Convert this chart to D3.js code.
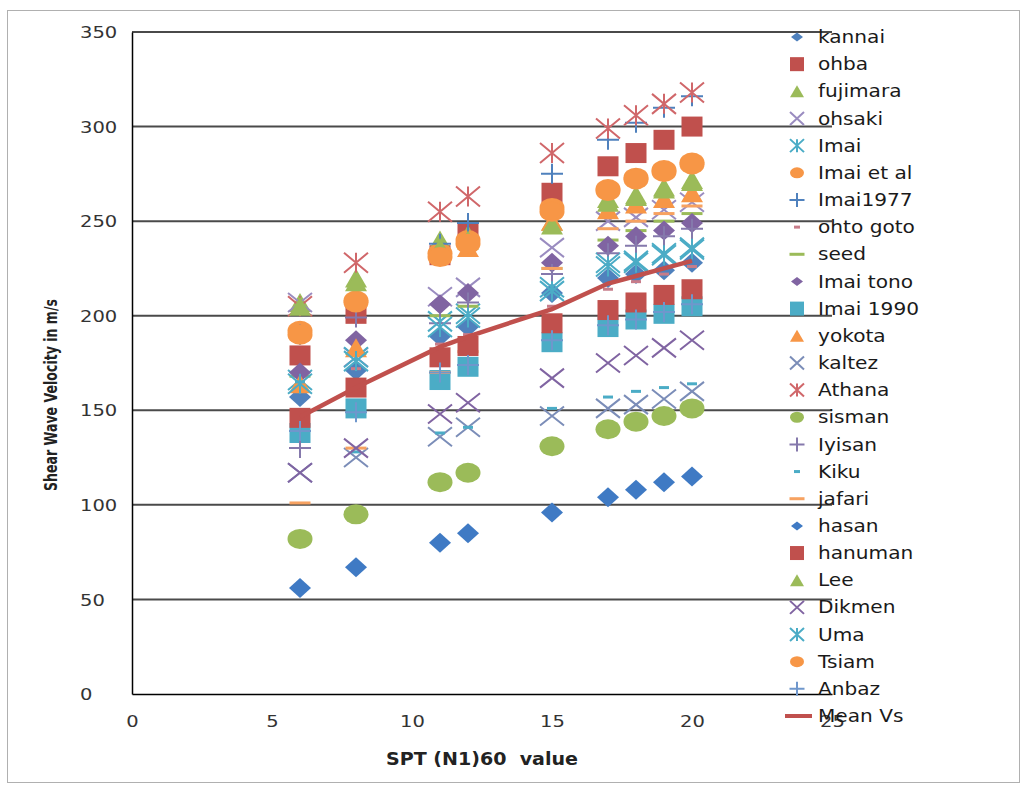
<!DOCTYPE html>
<html lang="en">
<head>
    <meta charset="UTF-8">
    <title>Shear Wave Velocity vs SPT</title>
    <script src="https://d3js.org/d3.v7.min.js"></script>
    <style>
        body { margin: 0; background: #fff; }
        text { font-family: "DejaVu Sans", sans-serif; }
    </style>
</head>
<body>
    <div id="chart"></div>

    <script>
        // SPT (N1)60 values where every correlation was evaluated
        const spt = [6, 8, 11, 12, 15, 17, 18, 19, 20];

        // Shear wave velocity (m/s), one array per correlation
        const kannai    = [157, 171, 189, 194, 212, 220, 222, 224, 228];
        const ohba      = [179, 201, 232, 244, 265, 279, 286, 293, 300];
        const fujimara  = [207, 220, 240, 243, 250, 262, 264, 268, 272];
        const ohsaki    = [207, 178, 210, 215, 236, 250, 252, 256, 260];
        const imai      = [166, 178, 197, 201, 215, 228, 229, 233, 236];
        const imaiEtAl  = [192, 208, 233, 240, 257, 267, 273, 277, 281];
        const imai1977  = [190, 205, 238, 249, 275, 293, 302, 310, 316];
        const ohtoGoto  = [160, 172, 185, 190, 205, 214, 218, 222, 226];
        const seed      = [168, 180, 200, 205, 225, 240, 245, 250, 254];
        const imaiTono  = [170, 187, 206, 212, 228, 237, 242, 245, 249];
        const imai1990  = [138, 151, 166, 173, 186, 194, 198, 201, 205];
        const yokota    = [164, 183, 233, 236, 250, 256, 259, 262, 265];
        const kaltez    = [117, 125, 136, 141, 147, 151, 153, 156, 160];
        const athana    = [205, 228, 255, 263, 286, 299, 306, 312, 318];
        const sisman    = [82, 95, 112, 117, 131, 140, 144, 147, 151];
        const iyisan    = [130, 199, 196, 207, 222, 233, 237, 242, 246];
        const kiku      = [165, 128, 138, 141, 151, 157, 160, 162, 164];
        const jafari    = [101, 130, 170, 181, 225, 246, 250, 254, 258];
        const hasan     = [56, 67, 80, 85, 96, 104, 108, 112, 115];
        const hanuman   = [146, 162, 178, 184, 196, 203, 207, 211, 214];
        const lee       = [205, 218, 236, 240, 248, 260, 263, 267, 271];
        const dikmen    = [117, 130, 148, 154, 167, 175, 179, 183, 187];
        const uma       = [164, 176, 194, 199, 213, 226, 228, 232, 235];
        const tsiam     = [190, 207, 231, 238, 255, 266, 272, 276, 280];
        const anbaz     = [139, 149, 170, 174, 187, 195, 198, 202, 206];
        const meanVs    = [146.5, 162, 183.5, 189, 203.5, 217, 221, 225, 229];

        const xTicks = [0, 5, 10, 15, 20, 25];
        const yTicks = [0, 50, 100, 150, 200, 250, 300, 350];

        // name, values, marker shape, colour (Excel 2007 default cycle)
        const series = [
            ["kannai", kannai, "diamond", "#4F81BD"],
            ["ohba", ohba, "square", "#C0504D"],
            ["fujimara", fujimara, "triangle", "#9BBB59"],
            ["ohsaki", ohsaki, "x", "#9A8CC0"],
            ["Imai", imai, "star", "#4BACC6"],
            ["Imai et al", imaiEtAl, "circle", "#F79646"],
            ["Imai1977", imai1977, "plus", "#4F81BD"],
            ["ohto goto", ohtoGoto, "dash", "#C77C89"],
            ["seed", seed, "longdash", "#9BBB59"],
            ["Imai tono", imaiTono, "diamond", "#8064A2"],
            ["Imai 1990", imai1990, "square", "#4BACC6"],
            ["yokota", yokota, "triangle", "#F79646"],
            ["kaltez", kaltez, "x", "#7B8DB8"],
            ["Athana", athana, "star", "#D0676A"],
            ["sisman", sisman, "circle", "#9BBB59"],
            ["Iyisan", iyisan, "plus", "#8579AC"],
            ["Kiku", kiku, "dash", "#4BACC6"],
            ["jafari", jafari, "longdash", "#F7A261"],
            ["hasan", hasan, "diamond", "#3F7AC4"],
            ["hanuman", hanuman, "square", "#C0504D"],
            ["Lee", lee, "triangle", "#9BBB59"],
            ["Dikmen", dikmen, "x", "#8064A2"],
            ["Uma", uma, "star", "#4BACC6"],
            ["Tsiam", tsiam, "circle", "#F79646"],
            ["Anbaz", anbaz, "plus", "#6F97CC"]
        ];

        const svg = d3.select("#chart").append("svg")
            .attr("width", 1027)
            .attr("height", 787);

        // outer chart border
        svg.append("rect")
            .attr("x", 7.5).attr("y", 10.5)
            .attr("width", 1012).attr("height", 772)
            .attr("fill", "none")
            .attr("stroke", "#b0b0b0");

        const x = d3.scaleLinear().domain([0, 25]).range([132, 832]);
        const y = d3.scaleLinear().domain([0, 350]).range([694, 32]);

        // picture is stretched sideways, so text is widened a bit
        const stretch = 1.22;

        // gridlines
        svg.append("g")
            .selectAll("line")
            .data(yTicks.filter(d => d > 0))
            .join("line")
            .attr("x1", x(0)).attr("x2", x(25))
            .attr("y1", d => y(d)).attr("y2", d => y(d))
            .attr("stroke", "#4a4a4a")
            .attr("stroke-width", 2);

        // axes
        const yAxis = svg.append("g")
            .attr("transform", `translate(${x(0)},0)`)
            .call(d3.axisLeft(y).tickValues(yTicks).tickSize(0));
        yAxis.select(".domain").attr("stroke", "#000").attr("stroke-width", 1.5);
        yAxis.selectAll("text")
            .attr("x", 0).attr("dy", "0.35em")
            .attr("text-anchor", "start")
            .attr("transform", `translate(-52,0) scale(${stretch},1)`)
            .attr("font-family", "DejaVu Sans")
            .attr("font-size", 16)
            .attr("fill", "#333");

        const xAxis = svg.append("g")
            .attr("transform", `translate(0,${y(0)})`)
            .call(d3.axisBottom(x).tickValues(xTicks).tickSize(0));
        xAxis.select(".domain").attr("stroke", "#000").attr("stroke-width", 1.5);
        xAxis.selectAll("text")
            .attr("y", 0).attr("dy", "0.35em")
            .attr("transform", `translate(0,27) scale(${stretch},1)`)
            .attr("font-family", "DejaVu Sans")
            .attr("font-size", 16)
            .attr("fill", "#333");

        // axis titles
        svg.append("text")
            .attr("x", 482).attr("y", 759)
            .attr("dy", "0.35em")
            .attr("text-anchor", "middle")
            .style("white-space", "pre")
            .attr("font-family", "Liberation Sans Narrow, Liberation Sans, sans-serif")
            .attr("font-weight", "bold")
            .attr("font-size", 18)
            .attr("textLength", 192)
            .attr("lengthAdjust", "spacingAndGlyphs")
            .attr("fill", "#222")
            .text("SPT (N1)60  value");

        svg.append("text")
            .attr("transform", "translate(51,395) rotate(-90)")
            .attr("dy", "0.35em")
            .attr("text-anchor", "middle")
            .attr("font-family", "Liberation Sans Narrow, Liberation Sans, sans-serif")
            .attr("font-weight", "bold")
            .attr("font-size", 18)
            .attr("textLength", 192)
            .attr("lengthAdjust", "spacingAndGlyphs")
            .attr("fill", "#222")
            .text("Shear Wave Velocity in m/s");

        // marker drawing
        function marker(g, shape, color, w, h) {
            const hw = w / 2, hh = h / 2;
            if (shape === "diamond") {
                g.append("path").attr("d", `M0,${-hh}L${hw},0L0,${hh}L${-hw},0Z`).attr("fill", color);
            } else if (shape === "square") {
                g.append("rect").attr("x", -hw).attr("y", -hh).attr("width", w).attr("height", h).attr("fill", color);
            } else if (shape === "triangle") {
                g.append("path").attr("d", `M0,${-hh}L${hw},${hh}L${-hw},${hh}Z`).attr("fill", color);
            } else if (shape === "circle") {
                g.append("ellipse").attr("rx", hw).attr("ry", hh).attr("fill", color);
            } else if (shape === "x" || shape === "star" || shape === "plus") {
                let d = "";
                if (shape !== "plus") d += `M${-hw},${-hh}L${hw},${hh}M${hw},${-hh}L${-hw},${hh}`;
                if (shape === "star") d += `M0,${-hh}L0,${hh}`;
                if (shape === "plus") d += `M${-hw},0L${hw},0M0,${-hh}L0,${hh}`;
                g.append("path").attr("d", d).attr("fill", "none")
                    .attr("stroke", color).attr("stroke-width", 2);
            } else if (shape === "dash" || shape === "longdash") {
                g.append("rect").attr("x", -hw).attr("y", -hh).attr("width", w).attr("height", h).attr("fill", color);
            }
        }

        const plotSize = {
            diamond: [22, 20], square: [21, 20], triangle: [22, 19], circle: [25, 20],
            x: [24, 19], star: [24, 20], plus: [22, 20], dash: [10, 3], longdash: [21, 3]
        };
        const legendSize = {
            diamond: [12, 9], square: [14, 14], triangle: [14, 12], circle: [14, 11],
            x: [14, 13], star: [14, 13], plus: [15, 14], dash: [6, 3], longdash: [15, 3]
        };

        // scatter points
        series.forEach(([name, vals, shape, color]) => {
            const g = svg.append("g").attr("class", "series");
            vals.forEach((v, i) => {
                const m = g.append("g").attr("transform", `translate(${x(spt[i])},${y(v)})`);
                marker(m, shape, color, plotSize[shape][0], plotSize[shape][1]);
            });
        });

        // mean line
        const line = d3.line().x((d, i) => x(spt[i])).y(d => y(d));
        svg.append("path")
            .datum(meanVs)
            .attr("d", line)
            .attr("fill", "none")
            .attr("stroke", "#C0504D")
            .attr("stroke-width", 4.5);

        // legend
        const legendNames = series.map(s => s[0]).concat(["Mean Vs"]);
        const ly = d3.scaleLinear().domain([0, legendNames.length - 1]).range([37, 716]);
        const legend = svg.append("g");
        series.forEach(([name, vals, shape, color], i) => {
            const m = legend.append("g").attr("transform", `translate(797,${ly(i)})`);
            marker(m, shape, color, legendSize[shape][0], legendSize[shape][1]);
        });
        legend.append("line")
            .attr("x1", 785).attr("x2", 812)
            .attr("y1", ly(25)).attr("y2", ly(25))
            .attr("stroke", "#C0504D").attr("stroke-width", 4);
        legend.selectAll("text")
            .data(legendNames)
            .join("text")
            .attr("transform", (d, i) => `translate(818,${ly(i)}) scale(1.15,1)`)
            .attr("dy", "0.35em")
            .attr("font-family", "DejaVu Sans")
            .attr("font-size", 17.5)
            .attr("fill", "#1a1a1a")
            .text(d => d);
    </script>
</body>
</html>
